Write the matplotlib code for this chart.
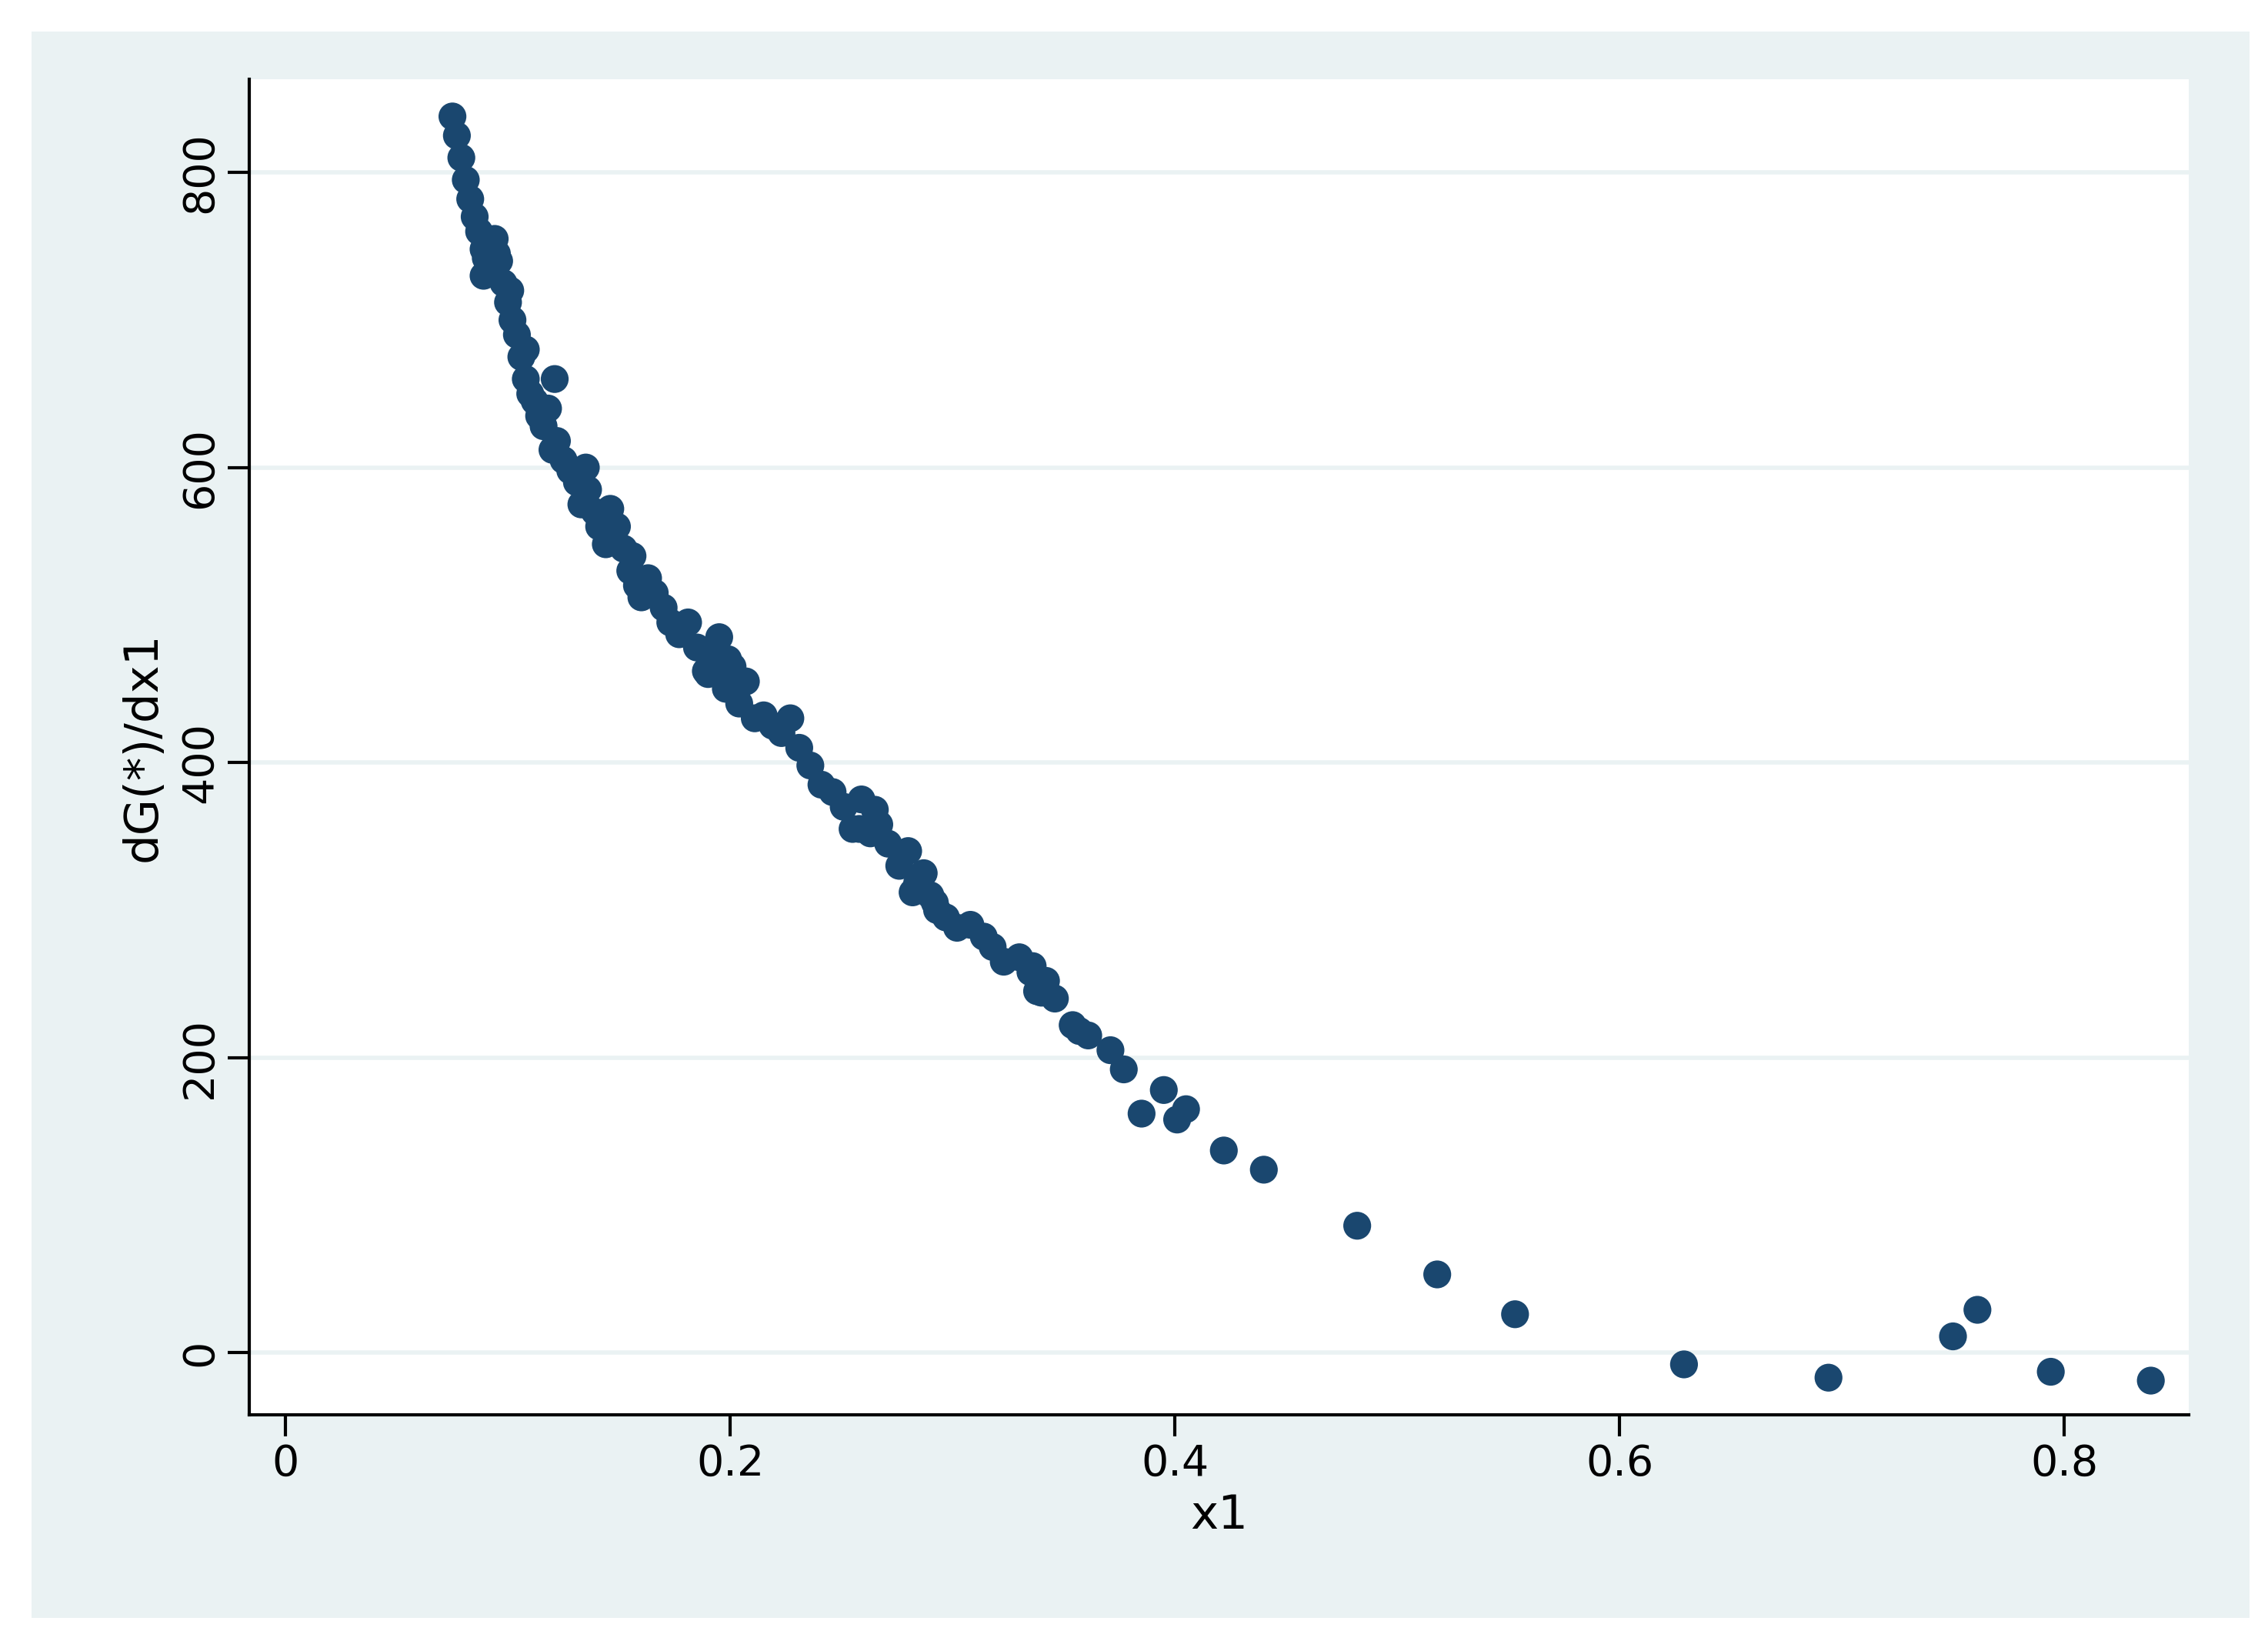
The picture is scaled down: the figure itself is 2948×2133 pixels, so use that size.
import matplotlib
matplotlib.use("Agg")
import matplotlib.pyplot as plt
from matplotlib.patches import Rectangle

x1 = [0.075,0.077,0.079,0.081,0.083,0.085,0.087,0.089,0.090,0.092,0.094,0.096,0.098,0.100,0.102,0.104,0.106,0.108,0.110,0.112,0.114,0.116,0.118,0.120,0.122,0.125,0.128,0.131,0.133,0.136,0.139,0.141,0.144,0.146,0.149,0.152,0.155,0.158,0.160,0.163,0.166,0.170,0.173,0.177,0.181,0.185,0.189,0.192,0.195,0.198,0.201,0.204,0.207,0.211,0.215,0.219,0.223,0.227,0.231,0.236,0.241,0.246,0.251,0.255,0.259,0.263,0.267,0.271,0.276,0.280,0.284,0.287,0.290,0.293,0.297,0.302,0.308,0.314,0.318,0.323,0.330,0.335,0.338,0.342,0.346,0.354,0.357,0.361,0.371,0.377,0.385,0.395,0.401,0.405,0.422,0.440,0.482,0.518,0.553,0.629,0.694,0.750,0.761,0.794,0.839,
      0.089,0.095,0.101,0.108,0.116,0.121,0.135,0.145,0.156,0.190,0.199,0.258,0.265,0.292,0.336,0.340,0.282]
dGdx1 = [838,825,810,795,782,770,760,748,742,735,755,740,725,712,700,690,675,660,650,645,635,628,640,612,618,605,598,590,575,585,570,560,548,572,560,545,530,520,512,525,515,505,495,487,495,478,462,470,485,450,465,440,455,430,432,425,420,430,410,398,385,380,370,355,375,352,358,345,330,340,318,325,310,300,295,288,290,282,275,265,268,258,245,252,240,222,218,215,205,192,162,178,158,165,137,124,86,53,26,-8,-17,11,29,-13,-19,
         730,745,720,680,640,660,600,555,540,460,470,355,368,305,262,244,312]

fig = plt.figure(figsize=(14.74, 10.665), dpi=200)
fig.patch.set_facecolor("white")
fig.add_artist(Rectangle((0.014, 0.014), 0.978, 0.967, transform=fig.transFigure,
                         facecolor="#eaf2f3", edgecolor="none", zorder=-10))
ax = fig.add_axes([0.110, 0.138, 0.855, 0.8135])
ax.set_facecolor("white")
for y in [0, 200, 400, 600, 800]:
    ax.axhline(y, color="#eaf2f3", lw=2, zorder=0)
ax.scatter(x1, dGdx1, s=170, color="#1a476f", edgecolors="none", zorder=3)
ax.set_xlim(-0.0163, 0.856)
ax.set_ylim(-42, 863)
ax.set_xticks([0, 0.2, 0.4, 0.6, 0.8])
ax.set_xticklabels(["0", "0.2", "0.4", "0.6", "0.8"])
ax.set_yticks([0, 200, 400, 600, 800])
ax.set_yticklabels(["0", "200", "400", "600", "800"], rotation=90, va="center")
for s in ["top", "right"]:
    ax.spines[s].set_visible(False)
ax.spines["left"].set_linewidth(1.5)
ax.spines["bottom"].set_linewidth(1.5)
ax.tick_params(labelsize=20, length=10, width=1.5, colors="black")
ax.set_xlabel("x1", fontsize=22, labelpad=4)
ax.set_ylabel("dG(*)/dx1", fontsize=22, labelpad=6)
fig.savefig("out.png", dpi=200)
